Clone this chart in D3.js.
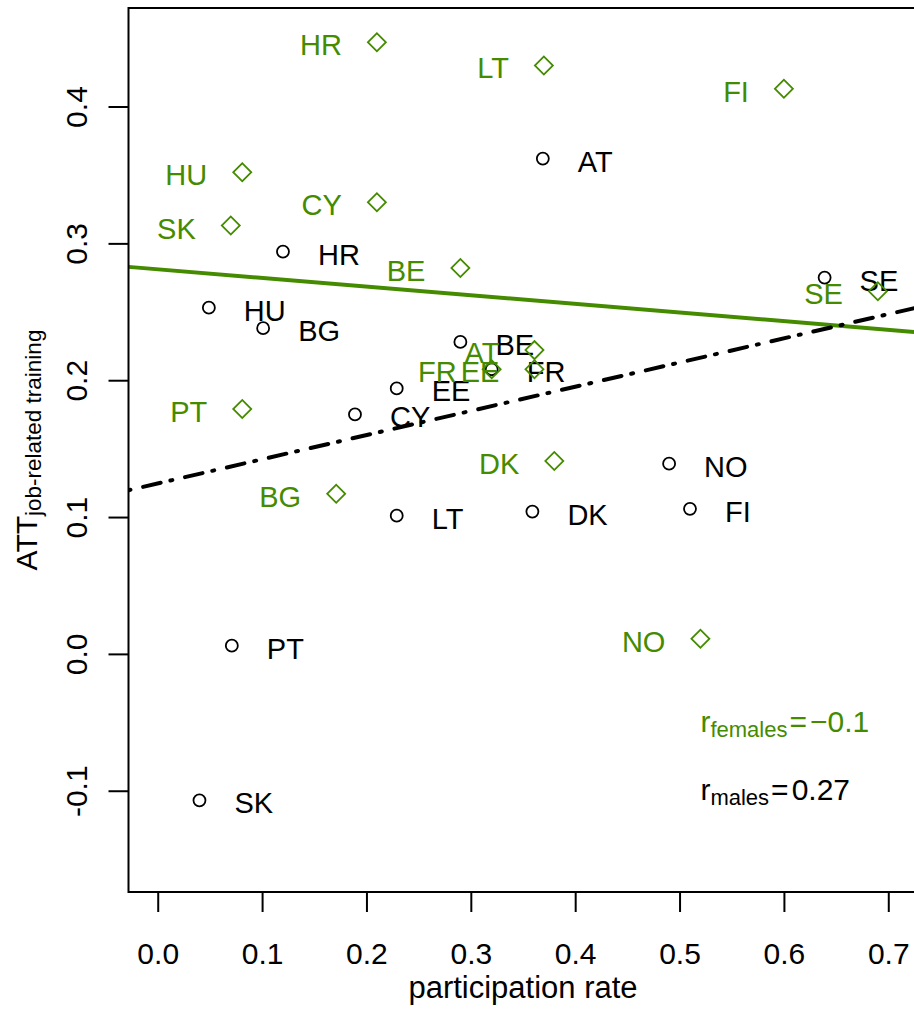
<!DOCTYPE html>
<html>
<head>
<meta charset="utf-8">
<script src="https://cdn.jsdelivr.net/npm/d3@7"></script>
<style>
  body { margin: 0; background: #fff; }
  text { font-family: "Liberation Sans", Arial, Helvetica, sans-serif; }
</style>
</head>
<body>
<div class="d3Chart"></div>
<script>
// country codes
var countries = ["AT", "BE", "BG", "CY", "DK", "EE", "FI", "FR", "HR", "HU", "LT", "NO", "PT", "SE", "SK"];

// males: participation rate / ATT
var maleRate = [0.369, 0.290, 0.101, 0.189, 0.359, 0.229, 0.510, 0.320, 0.120, 0.049, 0.229, 0.490, 0.071, 0.639, 0.040];
var maleATT = [0.362, 0.228, 0.238, 0.175, 0.104, 0.194, 0.106, 0.208, 0.294, 0.253, 0.101, 0.139, 0.006, 0.275, -0.107];

// females: participation rate / ATT
var femaleRate = [0.361, 0.290, 0.171, 0.210, 0.380, 0.361, 0.600, 0.320, 0.210, 0.081, 0.370, 0.520, 0.081, 0.690, 0.070];
var femaleATT = [0.222, 0.282, 0.117, 0.330, 0.141, 0.208, 0.413, 0.208, 0.447, 0.352, 0.430, 0.011, 0.179, 0.265, 0.313];

var xTicks = [0, 0.1, 0.2, 0.3, 0.4, 0.5, 0.6, 0.7];
var yTicks = [-0.1, 0, 0.1, 0.2, 0.3, 0.4];

var rFemales = "\u22120.1";
var rMales = "0.27";

var green = "#458B00";

// canvas
var width = 914;
var height = 1010;
var plot = { left: 128.5, right: 917.5, top: 8, bottom: 892 };

var svg = d3
  .select(".d3Chart")
  .append("svg")
  .attr("width", width)
  .attr("height", height)
  .style("background-color", "#fff");

var x = d3.scaleLinear().domain([-0.028, 0.728]).range([plot.left, plot.right]);
var y = d3.scaleLinear().domain([-0.174, 0.472]).range([plot.bottom, plot.top]);

svg
  .append("clipPath")
  .attr("id", "plotClip")
  .append("rect")
  .attr("x", plot.left)
  .attr("y", plot.top)
  .attr("width", plot.right - plot.left)
  .attr("height", plot.bottom - plot.top);

// x axis
var xAxis = svg
  .append("g")
  .attr("transform", `translate(0, ${plot.bottom})`)
  .call(
    d3.axisBottom(x)
      .tickValues(xTicks)
      .tickSize(20)
      .tickPadding(31)
      .tickFormat((d) => d.toFixed(1))
  );
xAxis.select(".domain").remove();
xAxis.selectAll(".tick line").attr("stroke", "#000").attr("stroke-width", 2);
xAxis.selectAll(".tick text").attr("fill", "#000").style("font-size", "30px");

// y axis, labels turned like R
var yAxis = svg
  .append("g")
  .attr("transform", `translate(${plot.left}, 0)`)
  .call(
    d3.axisLeft(y)
      .tickValues(yTicks)
      .tickSize(20)
      .tickFormat((d) => d.toFixed(1))
  );
yAxis.select(".domain").remove();
yAxis.selectAll(".tick line").attr("stroke", "#000").attr("stroke-width", 2);
yAxis
  .selectAll(".tick text")
  .attr("fill", "#000")
  .style("font-size", "30px")
  .attr("text-anchor", "middle")
  .attr("x", null)
  .attr("dy", null)
  .attr("transform", "translate(-42, 0) rotate(-90)");

// titles
svg
  .append("text")
  .attr("x", (plot.left + plot.right) / 2)
  .attr("y", 998)
  .attr("text-anchor", "middle")
  .style("font-size", "31px")
  .text("participation rate");

var yTitle = svg
  .append("text")
  .attr("text-anchor", "middle")
  .attr("transform", `translate(37, ${(plot.top + plot.bottom) / 2}) rotate(-90)`)
  .style("font-size", "30px");
yTitle.append("tspan").text("ATT");
yTitle.append("tspan").attr("dy", 4).style("font-size", "22.5px").text("job-related training");

// points + labels
var males = countries.map((c, i) => ({ code: c, rate: maleRate[i], att: maleATT[i] }));
var females = countries.map((c, i) => ({ code: c, rate: femaleRate[i], att: femaleATT[i] }));

var chart = svg.append("g").attr("clip-path", "url(#plotClip)");

chart
  .selectAll(".male")
  .data(males)
  .enter()
  .append("circle")
  .attr("class", "male")
  .attr("cx", (d) => x(d.rate))
  .attr("cy", (d) => y(d.att))
  .attr("r", 6)
  .attr("fill", "none")
  .attr("stroke", "#000")
  .attr("stroke-width", 1.8);

chart
  .selectAll(".maleLabel")
  .data(males)
  .enter()
  .append("text")
  .attr("class", "maleLabel")
  .attr("x", (d) => x(d.rate) + 35)
  .attr("y", (d) => y(d.att) + 13)
  .style("font-size", "29px")
  .attr("fill", "#000")
  .text((d) => d.code);

var diamond = d3.symbol().type(d3.symbolSquare).size(162);

chart
  .selectAll(".female")
  .data(females)
  .enter()
  .append("path")
  .attr("class", "female")
  .attr("d", diamond)
  .attr("transform", (d) => `translate(${x(d.rate)}, ${y(d.att)}) rotate(45)`)
  .attr("fill", "none")
  .attr("stroke", green)
  .attr("stroke-width", 1.8);

chart
  .selectAll(".femaleLabel")
  .data(females)
  .enter()
  .append("text")
  .attr("class", "femaleLabel")
  .attr("x", (d) => x(d.rate) - 35)
  .attr("y", (d) => y(d.att) + 13)
  .attr("text-anchor", "end")
  .style("font-size", "29px")
  .attr("fill", green)
  .text((d) => d.code);

// least squares fit
function fitLine(xs, ys) {
  var mx = d3.mean(xs);
  var my = d3.mean(ys);
  var sxy = d3.sum(xs, (v, i) => (v - mx) * (ys[i] - my));
  var sxx = d3.sum(xs, (v) => (v - mx) * (v - mx));
  var b = sxy / sxx;
  return { a: my - b * mx, b: b };
}

function fitPath(fit) {
  return d3
    .line()
    .x((d) => x(d))
    .y((d) => y(fit.a + fit.b * d))(x.domain());
}

chart
  .append("path")
  .attr("d", fitPath(fitLine(femaleRate, femaleATT)))
  .attr("fill", "none")
  .attr("stroke", green)
  .attr("stroke-width", 4);

chart
  .append("path")
  .attr("d", fitPath(fitLine(maleRate, maleATT)))
  .attr("fill", "none")
  .attr("stroke", "#000")
  .attr("stroke-width", 4)
  .attr("stroke-linecap", "round")
  .attr("stroke-dasharray", "2,13,18,10");

// box
svg
  .append("rect")
  .attr("x", plot.left)
  .attr("y", plot.top)
  .attr("width", plot.right - plot.left)
  .attr("height", plot.bottom - plot.top)
  .attr("fill", "none")
  .attr("stroke", "#000")
  .attr("stroke-width", 2);

// correlation notes
function rNote(sub, value, yVal, color) {
  var t = svg
    .append("text")
    .attr("x", x(0.52))
    .attr("y", y(yVal) + 9.5)
    .attr("fill", color)
    .style("font-size", "30px");
  t.append("tspan").text("r");
  t.append("tspan").attr("dy", 5).style("font-size", "22px").text(sub);
  t.append("tspan").attr("dy", -5).attr("dx", 2).text("=");
  t.append("tspan").attr("dx", 3).text(value);
}
rNote("females", rFemales, -0.05, green);
rNote("males", rMales, -0.1, "#000");
</script>
</body>
</html>
